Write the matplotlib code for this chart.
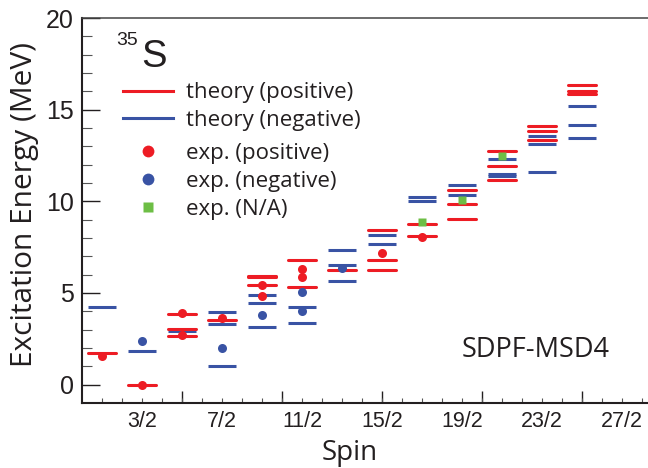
import numpy as np
import matplotlib
matplotlib.use('Agg')
import matplotlib.pyplot as plt
from matplotlib.lines import Line2D

# level scheme of 35S, SDPF-MSD4 vs experiment
spins = [0.5, 1.5, 2.5, 3.5, 4.5, 5.5, 6.5, 7.5, 8.5, 9.5, 10.5, 11.5, 12.5]

theory_pos = [
    [1.71],
    [0.0],
    [3.88, 3.04, 2.66],
    [3.53],
    [5.95, 5.85, 5.41],
    [6.78, 5.32],
    [6.27],
    [8.43, 6.81, 6.25],
    [8.78, 8.12],
    [10.6, 9.84, 9.04],
    [12.73, 11.95, 11.19],
    [14.13, 13.81, 13.37],
    [16.32, 16.03, 15.86],
]
theory_neg = [
    [4.26],
    [1.84],
    [2.95],
    [3.99, 3.32, 1.04],
    [4.9, 4.44, 3.17],
    [4.23, 3.35],
    [7.36, 6.52, 5.65],
    [8.14, 7.69],
    [10.22, 10.0],
    [10.89, 10.36],
    [12.3, 11.5, 11.38],
    [13.57, 13.15, 11.58],
    [15.19, 14.17, 13.43],
]

exp_pos_spin = [0.5, 1.5, 2.5, 2.5, 3.5, 4.5, 4.5, 5.5, 5.5, 7.5, 8.5]
exp_pos_e = [1.58, 0.0, 3.89, 2.73, 3.61, 5.41, 4.85, 6.32, 5.88, 7.2, 8.05]
exp_neg_spin = [1.5, 3.5, 4.5, 5.5, 5.5, 6.5]
exp_neg_e = [2.37, 2.0, 3.81, 5.03, 4.03, 6.38]
exp_na_spin = [8.5, 9.5, 10.5]
exp_na_e = [8.87, 10.05, 12.46]

label_pos = [1.5, 3.5, 5.5, 7.5, 9.5, 11.5, 13.5]
label_txt = ['3/2', '7/2', '11/2', '15/2', '19/2', '23/2', '27/2']

RED = '#ED1C24'
BLUE = '#3953A4'
GREEN = '#6DBE45'
INK = '#231F20'
W, H = 648, 468

plt.rcParams['font.family'] = ['Open Sans', 'DejaVu Sans']


def main():
    fig = plt.figure(figsize=(W / 100, H / 100), dpi=100)
    ax = fig.add_axes([82 / W, 65 / H, 600 / W, 385 / H])
    ax.set_xlim(0, 15)
    ax.set_ylim(-1, 20)

    half = 0.36
    for j, lev in zip(spins, theory_neg):
        ax.hlines(lev, j - half, j + half, color=BLUE, lw=2.2, zorder=2)
    for j, lev in zip(spins, theory_pos):
        ax.hlines(lev, j - half, j + half, color=RED, lw=2.2,
                  capstyle='round', zorder=3)

    ax.plot(exp_pos_spin, exp_pos_e, 'o', color=RED, ms=6.5, mec='none', zorder=4)
    ax.plot(exp_neg_spin, exp_neg_e, 'o', color=BLUE, ms=6.5, mec='none', zorder=4)
    ax.plot(exp_na_spin, exp_na_e, 's', color=GREEN, ms=5.8, mec='none', zorder=4)

    # axes cosmetics
    ax.spines['right'].set_visible(False)
    for s in ['left', 'bottom']:
        ax.spines[s].set_linewidth(1.5)
        ax.spines[s].set_color(INK)
    ax.spines['top'].set_linewidth(1.1)
    ax.spines['top'].set_color('#444444')

    ax.set_yticks(np.arange(0, 21, 5))
    ax.set_yticks(np.arange(0, 21, 1), minor=True)
    ax.tick_params(axis='y', which='major', direction='in', length=13, width=1,
                   labelsize=18, pad=6, colors=INK)
    ax.tick_params(axis='y', which='minor', direction='in', length=7, width=0.8,
                   colors='#555555')
    for t in ax.get_yticklabels():
        t.set_family('Liberation Sans')

    minor_x = np.arange(0.5, 15, 0.5)
    minor_lab = []
    for v in minor_x:
        if v in label_pos:
            minor_lab.append(label_txt[label_pos.index(v)])
        else:
            minor_lab.append('')
    ax.xaxis.remove_overlapping_locs = False
    ax.set_xticks(np.arange(2.5, 15, 2.5), labels=[''] * 5)
    ax.set_xticks(minor_x, labels=minor_lab, minor=True)
    ax.tick_params(axis='x', which='major', direction='in', length=8.5, width=1,
                   colors=INK)
    ax.tick_params(axis='x', which='minor', direction='in', length=3.8, width=0.8,
                   labelsize=15.5, pad=6, colors='#555555', labelcolor=INK)
    for t in ax.get_xticklabels(minor=True):
        t.set_family('Liberation Sans')

    ax.set_xlabel('Spin', fontsize=20, color=INK)
    ax.xaxis.set_label_coords((350 - 82) / 600, -0.094)
    ax.set_ylabel('Excitation Energy (MeV)', fontsize=21.5, color=INK)
    ax.yaxis.set_label_coords(-0.072, 0.515)

    fig.text(116 / W, 1 - 32 / H, '35', fontsize=14, family='Liberation Sans',
             va='top', ha='left', color=INK)
    fig.text(141 / W, 1 - 67 / H, 'S', fontsize=27.5, family='Liberation Sans',
             va='baseline', ha='left', color=INK)
    ax.text(0.633, 0.119, 'SDPF-MSD4', transform=ax.transAxes, fontsize=19.5,
            va='baseline', ha='left', color=INK)

    h_th = [Line2D([], [], color=RED, lw=2.2), Line2D([], [], color=BLUE, lw=2.2)]
    leg1 = ax.legend(h_th, ['theory (positive)', 'theory (negative)'],
                     loc='center left', bbox_to_anchor=(123 / W, 1 - 106.5 / H),
                     bbox_transform=fig.transFigure, frameon=False, fontsize=16,
                     handlelength=2.25, handletextpad=0.6, borderpad=0,
                     borderaxespad=0, labelspacing=0.28, labelcolor=INK)
    ax.add_artist(leg1)
    h_ex = [Line2D([], [], ls='none', marker='o', ms=8.5, color=RED, mec='none'),
            Line2D([], [], ls='none', marker='o', ms=8.5, color=BLUE, mec='none'),
            Line2D([], [], ls='none', marker='s', ms=7.8, color=GREEN, mec='none')]
    ax.legend(h_ex, ['exp. (positive)', 'exp. (negative)', 'exp. (N/A)'],
              loc='center left', bbox_to_anchor=(123 / W, 1 - 181.5 / H),
              bbox_transform=fig.transFigure, frameon=False, fontsize=16,
              handlelength=2.25, handletextpad=0.6, borderpad=0,
              borderaxespad=0, labelspacing=0.32, labelcolor=INK)

    fig.savefig('out.png', dpi=100)
    plt.close(fig)


if __name__ == '__main__':
    main()
